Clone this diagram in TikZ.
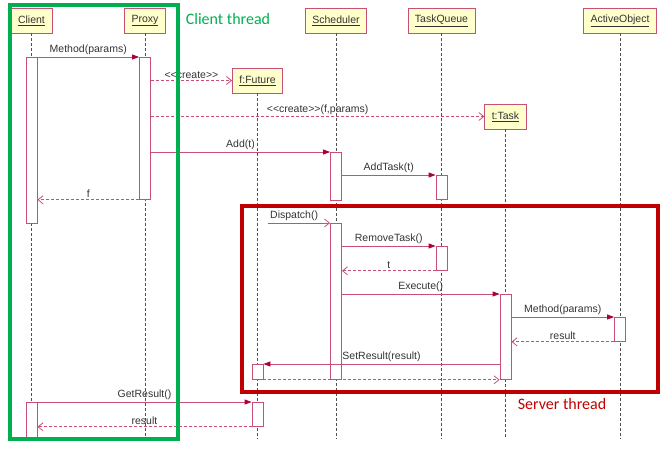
\documentclass[tikz,border=0pt]{standalone}
\usepackage{fontspec}
\setmainfont{Liberation Sans}
\newfontfamily\threadfont{Carlito}
\usetikzlibrary{arrows.meta}

\definecolor{umlline}{RGB}{200,80,120}
\definecolor{umlhead}{RGB}{170,0,60}
\definecolor{umlfill}{RGB}{255,255,204}
\definecolor{lifegray}{RGB}{80,80,80}
\definecolor{cthread}{RGB}{0,176,80}
\definecolor{sthread}{RGB}{192,0,0}

\tikzset{
  obj/.style={draw=umlline, fill=umlfill, line width=0.8pt, minimum height=25pt,
    inner xsep=7pt, text=black!80, font=\fontsize{10.5}{12}\selectfont},
  act/.style={draw=umlline, fill=white, line width=0.8pt, minimum width=11pt,
    anchor=north, inner sep=0pt},
  lifeline/.style={draw=lifegray, line width=0.8pt, dash pattern=on 3pt off 2pt},
  call/.style={draw=umlline, line width=0.8pt,
    -{Triangle[length=7pt,width=5pt,color=umlhead]}},
  ret/.style={draw=umlline, line width=0.8pt, dash pattern=on 3pt off 2pt,
    -{Straight Barb[length=5pt,width=8pt]}},
  async/.style={draw=umlline, line width=0.8pt, -{Straight Barb[length=5pt,width=8pt]}},
  lbl/.style={above, inner sep=1.5pt, text=black!80, font=\fontsize{10.5}{12}\selectfont},
  thread/.style={line width=3.5pt},
}

\begin{document}
\begin{tikzpicture}[x=1pt,y=-1pt]

    \useasboundingbox (0,0) rectangle (671,448);

    % Objects
    \foreach \n/\x/\y/\t in {oC/31.5/20.5/Client, oP/145/20.5/Proxy,
        oS/336/20.5/Scheduler, oQ/441.5/20.5/TaskQueue, oA/620/20.5/ActiveObject,
        oF/257.5/80.5/f:Future, oT/505.5/116.5/t:Task}
        \node[obj] (\n) at (\x,\y) {\underline{\t}};

    % Lifelines
    \foreach \o in {oC,oP,oS,oQ,oA,oF,oT}
        \draw[lifeline] (\o.south) -- (\o |- 0,439);

    % Activations
    \foreach \n/\o/\t/\b in {aC1/oC/57/223, aP/oP/57/199, aS1/oS/152/200,
        aQ1/oQ/175/199, aS2/oS/223/379, aQ2/oQ/246/270, aT/oT/294/379,
        aA/oA/317/341, aF1/oF/364/379, aC2/oC/402/437, aF2/oF/402/426}
        \node[act, minimum height={\b-\t}] (\n) at (\o |- 0,\t) {};

    % Client side
    \draw[call] (aC1.north east) -- (aP.north west) node[lbl, midway] {Method(params)};
    \draw[ret] (aP.east |- oF.west) -- (oF.west)
        node[lbl, midway] {<\kern0pt<create>\kern0pt>};
    \draw[ret] (aP.east |- oT.west) -- (oT.west)
        node[lbl, midway] {<\kern0pt<create>\kern0pt>(f,params)};
    \draw[call] (aP.east |- aS1.north) -- (aS1.north west) node[lbl, midway] {Add(t)};
    \draw[call] (aS1.east |- aQ1.north) -- (aQ1.north west) node[lbl, midway] {AddTask(t)};
    \draw[ret] (aP.south west) -- (aC1.east |- aP.south west) node[lbl, midway] {f};

    % Server side
    \coordinate (dsp) at ([xshift=-62pt]aS2.north west);
    \draw[async] (dsp) -- (aS2.north west) node[lbl, pos=0.42] {Dispatch()};
    \draw[call] (aS2.east |- aQ2.north) -- (aQ2.north west) node[lbl, midway] {RemoveTask()};
    \draw[ret] (aQ2.south west) -- (aS2.east |- aQ2.south west) node[lbl, midway] {t};
    \draw[call] (aS2.east |- aT.north) -- (aT.north west) node[lbl, midway] {Execute()};
    \draw[call] (aT.east |- aA.north) -- (aA.north west) node[lbl, midway] {Method(params)};
    \draw[ret] (aA.south west) -- (aT.east |- aA.south west) node[lbl, midway] {result};
    \draw[call] (aT.west |- aF1.north) -- (aF1.north east) node[lbl, midway] {SetResult(result)};
    \draw[ret] (aF1.south east) -- (aT.south west);

    % Getting the result
    \draw[call] (aC2.north east) -- (aF2.north west) node[lbl, midway] {GetResult()};
    \draw[ret] (aF2.south west) -- (aC2.east |- aF2.south west) node[lbl, midway] {result};

    % Threads
    \draw[thread, cthread] (10,5) rectangle (178,439);
    \node[text=cthread, font=\threadfont\fontsize{16}{18}\selectfont] (ct) at (228,19) {Client thread};
    \draw[thread, sthread] (242,206) rectangle (658,392);
    \node[text=sthread, font=\threadfont\fontsize{16}{18}\selectfont] (st) at (562,404) {Server thread};

\end{tikzpicture}
\end{document}
